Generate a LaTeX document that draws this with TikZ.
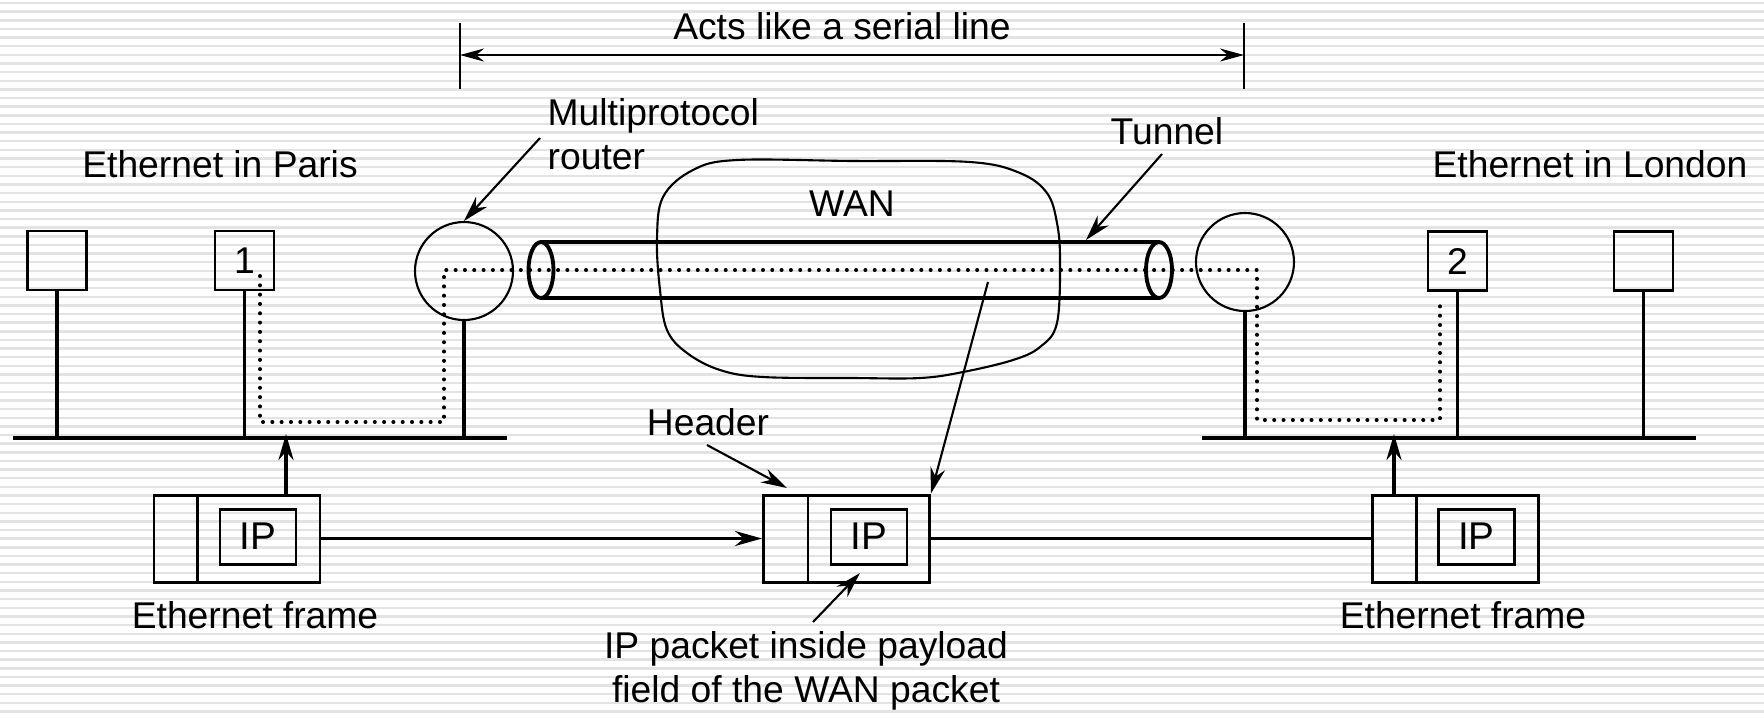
\documentclass[tikz,border=0pt]{standalone}
\usepackage{fontspec}
\setmainfont{Liberation Sans}
\usetikzlibrary{arrows.meta,positioning}

\begin{document}
\begin{tikzpicture}[
  x=0.1mm, y=-0.1mm,
  font=\fontsize{10.6}{12.5}\selectfont,
  host/.style={draw, line width=0.75pt, minimum width=5.9mm, minimum height=5.9mm, inner sep=0pt},
  router/.style={draw, circle, line width=0.6pt, minimum size=9.8mm, inner sep=0pt},
  frm/.style={draw, line width=0.85pt, minimum width=16.6mm, minimum height=8.7mm, inner sep=0pt},
  ipbox/.style={draw, line width=0.85pt, minimum width=7.6mm, minimum height=5.5mm, inner sep=0pt,
                font=\fontsize{11}{13}\selectfont},
  divline/.style={line width=0.6pt},
  bus/.style={line width=1.4pt},
  drop/.style={line width=1.1pt},
  tube/.style={line width=1.3pt},
  wanline/.style={line width=0.6pt},
  route/.style={line width=1.15pt, line cap=round, dash pattern=on 0pt off 2.65pt},
  stripe/.style={line width=0.7pt, black!11},
  arr/.style={-{Stealth[length=2.6mm, width=1.5mm]}, line width=0.6pt},
  farr/.style={-{Stealth[length=2.7mm, width=1.5mm]}, line width=1pt},
  uarr/.style={-{Stealth[length=2.6mm, width=1.5mm]}, line width=1.1pt},
  dim/.style={{Stealth[length=2.4mm, width=1.3mm]}-{Stealth[length=2.4mm, width=1.3mm]}, line width=0.7pt},
  lbl/.style={inner sep=0pt},
]

\useasboundingbox (0,0) rectangle (1764,717);
\fill[white] (0,0) rectangle (1764,717);
\foreach \k in {0,...,82}
  \draw[stripe] (0,{3+\k*8.64}) -- (1764,{3+\k*8.64});

% ---------------- Serial line span ----------------
\coordinate (dimL) at (460,55);
\coordinate (dimR) at (1244,55);
\draw[divline] (460,23) -- (460,89);
\draw[divline] (1244,23) -- (1244,89);
\draw[dim] (dimL) -- (dimR);
\node[lbl, anchor=base] (acts) at (842,39) {Acts like a serial line};

% ---------------- Paris side ----------------
\node[lbl, anchor=base] (paris) at (220,177) {Ethernet in Paris};
\node[host] (hA) at (57,260.5) {};
\node[host] (h1) at (244.5,260.5) {1};
\node[router] (rL) at (464,271) {};
\coordinate (busL1) at (13,438);
\coordinate (busL2) at (507,438);
\draw[bus] (busL1) -- (busL2);
\draw[drop] (hA.south) -- (hA.south |- busL1);
\draw[drop] (h1.south) -- (h1.south |- busL1);
\draw[drop] (rL.south) -- (rL.south |- busL1);

% ---------------- London side ----------------
\node[lbl, anchor=base] (london) at (1590,177) {Ethernet in London};
\node[host] (h2) at (1457.5,261) {2};
\node[host] (hB) at (1643.5,261) {};
\node[router] (rR) at (1245,262) {};
\coordinate (busR1) at (1202,438);
\coordinate (busR2) at (1696,438);
\draw[bus] (busR1) -- (busR2);
\draw[drop] (h2.south) -- (h2.south |- busR1);
\draw[drop] (hB.south) -- (hB.south |- busR1);
\draw[drop] (rR.south) -- (rR.south |- busR1);

% ---------------- WAN and tunnel ----------------
\draw[wanline] plot[smooth cycle, tension=0.6] coordinates {
  (657,240) (663,197) (693,170) (737,160) (853,161) (970,162) (1020,173)
  (1047,193) (1057,223) (1060,260) (1057,323) (1040,347) (1013,360)
  (963,372) (920,378) (853,378) (763,377) (720,370) (687,353) (667,330) (660,290)};
\node[lbl, anchor=base] (wan) at (852,216) {WAN};
\draw[tube] (541,242) -- (1159,242) (541,298) -- (1159,298);
\draw[line width=1.1pt] (541,270) ellipse [x radius=1.25mm, y radius=2.8mm];
\draw[line width=1.1pt] (1159,270) ellipse [x radius=1.3mm, y radius=2.8mm];

% path of the packet
\draw[route] (260,276) -- (260,422) -- (444,422) -- (444,270) -- (1257,270)
  -- (1257,420) -- (1440,420) -- (1440,303);

% ---------------- Labels with pointers ----------------
\node[lbl, anchor=base west, align=left] (mpr) at (547,169) {Multiprotocol\\router};
\node[lbl, anchor=base west] (tunnel) at (1110,144) {Tunnel};
\coordinate (mprT) at (540,138);
\draw[arr] (mprT) -- (rL.north);
\coordinate (tunT) at (1162,154);
\coordinate (tunHit) at (1086,240);
\draw[arr] (tunT) -- (tunHit);

% ---------------- Frames ----------------
\node[frm] (fL) at (237,538.5) {};
\node[ipbox] (ipL) at (258,536.5) {IP};
\draw[divline] ([xshift=4.5mm]fL.north west) -- ([xshift=4.5mm]fL.south west);
\node[frm] (fM) at (846.5,538.5) {};
\node[ipbox] (ipM) at (869,536.5) {IP};
\draw[divline] ([xshift=4.6mm]fM.north west) -- ([xshift=4.6mm]fM.south west);
\node[frm] (fR) at (1455,538.5) {};
\node[ipbox] (ipR) at (1476.5,536.5) {IP};
\draw[divline] ([xshift=4.6mm]fR.north west) -- ([xshift=4.6mm]fR.south west);

\draw[farr] (fL.east) -- (fM.west);
\draw[line width=1pt] (fM.east) -- (fR.west);
\coordinate (upL) at (286,434);
\draw[uarr] (fL.north -| upL) -- (upL);
\coordinate (upR) at (1394,434);
\draw[uarr] (fR.north -| upR) -- (upR);

\node[lbl, anchor=base] (efL) at (255,628) {Ethernet frame};
\node[lbl, anchor=base] (efR) at (1463,628) {Ethernet frame};
\node[lbl, anchor=base] (hdr) at (708,435) {Header};
\node[lbl, anchor=base, align=center] (ipp) at (806,702) {IP packet inside payload\\field of the WAN packet};

\coordinate (hdrT) at (707,445);
\coordinate (hdrHit) at (787,488);
\draw[arr] (hdrT) -- (hdrHit);
\coordinate (tunIn) at (988,282);
\draw[arr] (tunIn) -- (fM.north east);
\coordinate (ippT) at (813,622);
\coordinate (ippHit) at (860,573);
\draw[arr] (ippT) -- (ippHit);

\end{tikzpicture}
\end{document}
